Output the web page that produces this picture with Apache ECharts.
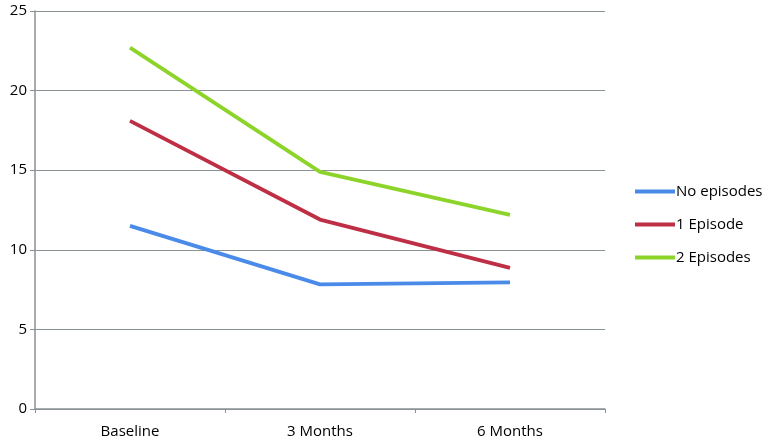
<!DOCTYPE html>
<html>
<head>
<meta charset="utf-8">
<script src="https://cdn.jsdelivr.net/npm/echarts@6/dist/echarts.min.js"></script>
<style>
  html, body { margin: 0; padding: 0; background: #fff; }
  #chart { width: 765px; height: 444px; }
</style>
</head>
<body>
<div id="chart"></div>
<script>
// data
const categories = ['Baseline', '3 Months', '6 Months'];
const noEpisodes = [11.5, 7.83, 7.96];
const oneEpisode = [18.1, 11.9, 8.86];
const twoEpisodes = [22.7, 14.9, 12.2];
const yTicks = { min: 0, max: 25, interval: 5 };

const axisGray = '#8a9294';
const font = '"Open Sans", "Liberation Sans", sans-serif';

const chart = echarts.init(document.getElementById('chart'));

function lineSeries(name, data, color) {
  return {
    name: name,
    type: 'line',
    data: data,
    symbol: 'none',
    color: color,
    lineStyle: { color: color, width: 3.8 }
  };
}

chart.setOption({
  animation: false,
  textStyle: { fontFamily: font },
  grid: { left: 35, right: 160, top: 11, bottom: 35 },
  legend: {
    orient: 'vertical',
    left: 630,
    top: 179,
    itemWidth: 40,
    itemHeight: 4,
    itemGap: 18,
    icon: 'rect',
    textStyle: { fontSize: 15, color: '#000', fontFamily: font, padding: [0, 0, 0, -4] }
  },
  xAxis: {
    type: 'category',
    data: categories,
    boundaryGap: true,
    axisLine: { lineStyle: { color: axisGray, width: 1.5 } },
    axisTick: { show: true, length: 4, lineStyle: { color: axisGray } },
    axisLabel: { color: '#000', fontSize: 15, margin: 15 }
  },
  yAxis: {
    type: 'value',
    min: yTicks.min,
    max: yTicks.max,
    interval: yTicks.interval,
    axisLine: { show: true, lineStyle: { color: axisGray, width: 1.5 } },
    axisTick: { show: true, length: 5, lineStyle: { color: axisGray } },
    axisLabel: { color: '#000', fontSize: 15, margin: 8 },
    splitLine: { lineStyle: { color: axisGray, width: 1.2 } }
  },
  series: [
    lineSeries('No episodes', noEpisodes, '#4a8ae8'),
    lineSeries('1 Episode', oneEpisode, '#be2f45'),
    lineSeries('2 Episodes', twoEpisodes, '#8dd42a')
  ]
});
</script>
</body>
</html>
